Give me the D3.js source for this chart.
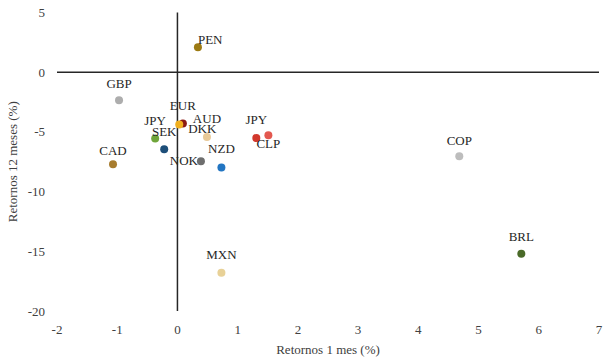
<!DOCTYPE html>
<html><head><meta charset="utf-8">
<script src="https://cdn.jsdelivr.net/npm/d3@7"></script>
<style>
body{margin:0;background:#fff;}
</style></head>
<body><svg id="c" width="604" height="358"></svg>
<script>
const currencies = ["PEN","GBP","EUR","DKK","JPY","SEK","CAD","AUD","NOK","NZD","JPY","CLP","COP","BRL","MXN"];
const ret1m  = [0.34,-0.97,0.09,0.03,-0.37,-0.22,-1.07,0.49,0.39,0.73,1.31,1.51,4.68,5.71,0.73];
const ret12m = [2.1,-2.35,-4.3,-4.38,-5.55,-6.45,-7.7,-5.42,-7.45,-7.98,-5.52,-5.28,-7.03,-15.2,-16.8];
const colors = ["#9C7A12","#ADADAD","#8B1A14","#F2B01E","#6FA53A","#1D4E79","#A77C2E","#E8C998","#6E6E6E","#2275C2","#D2382C","#E3584F","#BDBDBD","#4A6A28","#E8D197"];
const xTicks = [-2,-1,0,1,2,3,4,5,6,7];
const yTicks = [5,0,-5,-10,-15,-20];
// label placement (pixel offsets, anchor)
const labelDx = [0,0,0,23,0,0,0,0,-3,0,0,0,0,0,0];
const labelDy = [-3,-12,-14,9,-13,-13,-9,-14,4,-14,-14,13,-11,-13,-14];
const labelAnchor = ["start","middle","middle","middle","middle","middle","middle","middle","end","middle","middle","middle","middle","middle","middle"];

const svg = d3.select("#c");
const FONT = "Liberation Serif";
const x = d3.scaleLinear().domain([-2,7]).range([57,599]);
const y = d3.scaleLinear().domain([-20,5]).range([311,12.5]);

// tick labels
svg.append("g").selectAll("text").data(xTicks).join("text")
  .attr("x",d=>x(d)).attr("y",334).attr("text-anchor","middle").attr("font-family",FONT)
  .attr("font-size",13).attr("fill","#404040").text(d=>d);
svg.append("g").selectAll("text").data(yTicks).join("text")
  .attr("x",45).attr("y",d=>y(d)+4.5).attr("text-anchor","end").attr("font-family",FONT)
  .attr("font-size",13).attr("fill","#404040").text(d=>d);

// axis lines through origin
svg.append("line").attr("x1",x(-2)).attr("x2",x(7)).attr("y1",y(0)).attr("y2",y(0))
  .attr("stroke","#262626").attr("stroke-width",1.5);
svg.append("line").attr("x1",x(0)).attr("x2",x(0)).attr("y1",y(5)).attr("y2",y(-20))
  .attr("stroke","#262626").attr("stroke-width",1.5);

// titles
svg.append("text").attr("x",(x(-2)+x(7))/2).attr("y",354).attr("text-anchor","middle").attr("font-family",FONT)
  .attr("font-size",13).attr("fill","#404040").text("Retornos 1 mes (%)");
svg.append("text").attr("transform",`translate(17,${(y(5)+y(-20))/2}) rotate(-90)`).attr("font-family",FONT)
  .attr("text-anchor","middle").attr("font-size",13).attr("fill","#404040").text("Retornos 12 meses (%)");

const pts = currencies.map((c,i)=>({c,x:ret1m[i],y:ret12m[i],col:colors[i],i}));
svg.append("g").selectAll("circle").data(pts).join("circle")
  .attr("cx",d=>x(d.x)).attr("cy",d=>y(d.y)).attr("r",4).attr("fill",d=>d.col);
svg.append("g").selectAll("text").data(pts).join("text")
  .attr("x",d=>x(d.x)+labelDx[d.i]).attr("y",d=>y(d.y)+labelDy[d.i]).attr("font-family",FONT)
  .attr("text-anchor",d=>labelAnchor[d.i]).attr("font-size",13).attr("fill","#262626")
  .text(d=>d.c);
</script></body></html>
